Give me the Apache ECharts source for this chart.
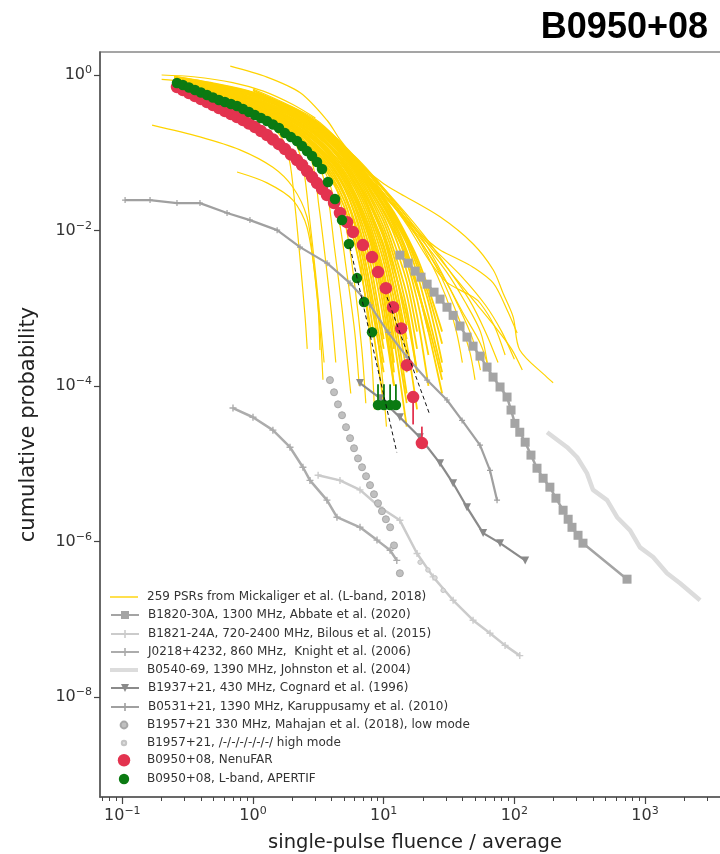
<!DOCTYPE html>
<html><head><meta charset="utf-8">
<script src="https://cdn.jsdelivr.net/npm/echarts@6/dist/echarts.min.js"></script>
<style>html,body{margin:0;padding:0;background:#fff}#c{width:720px;height:854px}</style>
</head><body><div id="c"></div>
<script>
// ---------- tick values ----------
const xMajorTicks = [0.1, 1, 10, 100, 1000];
const xMinorTicks = [0.07,0.08,0.09,0.2,0.3,0.4,0.5,0.6,0.7,0.8,0.9,2,3,4,5,6,7,8,9,20,30,40,50,60,70,80,90,200,300,400,500,600,700,800,900,2000,3000,4000];
const yMajorTicks = [1e-8, 1e-6, 1e-4, 1e-2, 1];

// ---------- legend names ----------
const nmPSR = '259 PSRs from Mickaliger et al. (L-band, 2018)';
const nmB1820 = 'B1820-30A, 1300 MHz, Abbate et al. (2020)';
const nmB1821 = 'B1821-24A, 720-2400 MHz, Bilous et al. (2015)';
const nmJ0218 = 'J0218+4232, 860 MHz,  Knight et al. (2006)';
const nmB0540 = 'B0540-69, 1390 MHz, Johnston et al. (2004)';
const nmB1937 = 'B1937+21, 430 MHz, Cognard et al. (1996)';
const nmB0531 = 'B0531+21, 1390 MHz, Karuppusamy et al. (2010)';
const nmB1957lo = 'B1957+21 330 MHz, Mahajan et al. (2018), low mode';
const nmB1957hi = 'B1957+21, /-/-/-/-/-/-/ high mode';
const nmNenu = 'B0950+08, NenuFAR';
const nmApertif = 'B0950+08, L-band, APERTIF';

const yellowCoreX = [0.25,0.5,1,2,3,4,5,6,7,8,10,12,15,18,22,28];
const yellowCoreY = [
 [0.82,0.55,0.34,0.165,0.09,0.045,0.02,0.007,0.002,5e-4],
 [0.83,0.57,0.36,0.18,0.1,0.055,0.028,0.012,0.004,0.0012,1.5e-4],
 [0.84,0.56,0.35,0.17,0.095,0.05,0.024,0.009,0.003,8e-4,6e-5],
 [0.85,0.59,0.38,0.2,0.115,0.065,0.035,0.017,0.007,0.0025,3e-4],
 [0.85,0.6,0.39,0.205,0.12,0.07,0.038,0.02,0.009,0.0035,4e-4],
 [0.86,0.6,0.4,0.21,0.125,0.075,0.042,0.022,0.011,0.005,7e-4,1e-4],
 [0.87,0.62,0.42,0.23,0.14,0.085,0.05,0.028,0.015,0.008,0.0015,2e-4],
 [0.87,0.63,0.43,0.24,0.148,0.09,0.054,0.031,0.017,0.009,0.002,3e-4],
 [0.88,0.64,0.44,0.25,0.155,0.095,0.058,0.035,0.02,0.011,0.003,6e-4,6e-5],
 [0.89,0.66,0.46,0.27,0.17,0.11,0.068,0.042,0.026,0.015,0.005,0.0013,1.5e-4],
 [0.89,0.67,0.47,0.28,0.178,0.115,0.073,0.046,0.029,0.017,0.0065,0.0018,2.5e-4],
 [0.9,0.68,0.48,0.29,0.185,0.12,0.078,0.05,0.032,0.02,0.008,0.0025,4e-4],
 [0.91,0.7,0.5,0.31,0.2,0.135,0.088,0.058,0.038,0.025,0.011,0.0045,0.001,1.5e-4],
 [0.91,0.71,0.51,0.32,0.207,0.14,0.091,0.061,0.041,0.027,0.013,0.0055,0.0015,3e-4],
 [0.92,0.72,0.53,0.33,0.215,0.145,0.095,0.065,0.045,0.03,0.015,0.007,0.0022,5e-4],
 [0.93,0.74,0.55,0.35,0.23,0.155,0.1,0.07,0.05,0.036,0.02,0.011,0.004,0.0013,2.5e-4],
 [0.93,0.75,0.56,0.36,0.235,0.16,0.105,0.074,0.053,0.039,0.022,0.013,0.0055,0.002,5e-4,8e-5],
 [0.94,0.76,0.58,0.37,0.24,0.165,0.11,0.078,0.057,0.042,0.025,0.015,0.0075,0.0035,0.0012,2e-4],
 [0.95,0.77,0.59,0.375,0.245,0.168,0.113,0.08,0.059,0.044,0.026,0.016,0.008,0.004,0.0015,3.5e-4],
 [0.95,0.78,0.6,0.38,0.25,0.17,0.115,0.082,0.06,0.045,0.027,0.017,0.0085,0.0045,0.0018,5e-4],
 [0.84,0.58,0.37,0.19,0.105,0.06,0.03,0.013,0.005,0.0017,2e-4],
 [0.86,0.61,0.41,0.22,0.13,0.08,0.046,0.025,0.013,0.0065,0.001,1e-4],
 [0.88,0.65,0.45,0.26,0.16,0.1,0.063,0.038,0.023,0.013,0.004,9e-4,8e-5],
 [0.9,0.69,0.49,0.3,0.19,0.128,0.083,0.054,0.035,0.022,0.0095,0.0035,6e-4],
 [0.92,0.73,0.54,0.34,0.22,0.15,0.098,0.068,0.048,0.033,0.017,0.009,0.003,8e-4,1e-4],
 [0.9,0.7,0.5,0.31,0.2,0.135,0.09,0.062,0.044,0.032,0.018,0.01,0.0045,0.0018,6e-4,1.2e-4],
 [0.92,0.73,0.55,0.35,0.23,0.158,0.105,0.073,0.052,0.038,0.021,0.012,0.005,0.0019,5e-4],
 [0.93,0.75,0.57,0.36,0.235,0.16,0.108,0.076,0.055,0.041,0.024,0.014,0.0068,0.0028,8e-4,1.5e-4],
 [0.88,0.66,0.46,0.27,0.172,0.112,0.072,0.047,0.031,0.02,0.0085,0.0032,8e-4,1.5e-4],
 [0.87,0.64,0.44,0.25,0.158,0.1,0.064,0.041,0.026,0.016,0.006,0.0018,3.5e-4,5e-5],
 [0.86,0.62,0.42,0.23,0.14,0.086,0.052,0.03,0.017,0.0095,0.0025,4e-4,3e-5],
 [0.85,0.6,0.4,0.215,0.128,0.078,0.046,0.026,0.014,0.007,0.0014,1.5e-4]
];
const yellowSpray = [
 [[0.3,0.75],[1,0.32],[1.6,0.17],[1.9,0.08],[2.1,0.02],[2.3,0.004],[2.5,8e-4],[2.6,3e-4]],
 [[0.3,0.78],[1,0.34],[2,0.15],[2.4,0.07],[2.7,0.015],[3,0.003],[3.3,6e-4],[3.5,2e-4]],
 [[0.3,0.8],[1,0.36],[2,0.17],[2.8,0.08],[3.2,0.02],[3.6,0.004],[4,8e-4],[4.3,2e-4]],
 [[0.3,0.8],[1,0.37],[2,0.18],[3,0.09],[3.7,0.03],[4.2,0.006],[4.8,0.001],[5.3,2e-4],[5.6,8e-5]],
 [[0.3,0.82],[1,0.38],[2,0.19],[3.5,0.06],[4.5,0.015],[5.2,0.003],[6,5e-4],[6.5,1e-4]],
 [[0.4,0.7],[1,0.4],[2,0.2],[4,0.05],[5.2,0.01],[6,0.002],[6.8,3e-4],[7.3,6e-5]],
 [[0.5,0.65],[1,0.42],[2,0.21],[4,0.06],[6,0.012],[7,0.002],[8,3e-4],[8.5,5e-5]],
 [[0.5,0.66],[1.2,0.38],[2.2,0.2],[4.5,0.05],[6.5,0.01],[8,0.0015],[9.5,2e-4],[10.5,3e-5]],
 [[0.67,1.3],[1.28,0.94],[2.3,0.59],[3.7,0.26],[4.6,0.15],[6.6,0.07],[10,0.04],[13.3,0.03],[27,0.015],[48,6.8e-3],[69,3.1e-3],[82,1.56e-3],[98,7.7e-4],[110,2.9e-4],[177,1.3e-4],[198,1.1e-4]],
 [[1,0.66],[3,0.27],[5,0.12],[8,0.05],[12,0.024],[20,0.0085],[27,0.0056],[35,0.0045],[48,0.0034],[69,0.0021],[88,9.5e-4],[105,4.8e-4]],
 [[1,0.64],[3,0.26],[6,0.09],[10,0.03],[15,0.012],[21.5,0.0045],[30,0.0022],[48,0.0014],[55,0.00115],[70,6e-4],[85,2.5e-4]],
 [[1,0.63],[3,0.25],[5,0.12],[10,0.035],[20,0.009],[30,0.0035],[45,0.0013],[60,5e-4],[75,2e-4]],
 [[2,0.37],[6,0.085],[10,0.03],[20,0.0065],[30,0.0022],[40,9e-4],[55,3.5e-4],[65,1.5e-4]],
 [[2,0.38],[6,0.09],[12,0.024],[20,0.0075],[28,0.0028],[38,0.001],[48,4e-4],[55,1.6e-4]],
 [[2,0.36],[7,0.065],[14,0.016],[22,0.0045],[30,0.0014],[36,5e-4],[40,2e-4]],
 [[2,0.35],[8,0.05],[15,0.013],[25,0.0035],[35,0.001],[45,3e-4],[50,1.2e-4]],
 [[3,0.26],[10,0.03],[20,0.008],[35,0.0025],[50,0.0012],[70,6e-4],[95,3e-4],[115,1.6e-4]],
 [[3,0.25],[12,0.02],[25,0.0055],[40,0.0025],[60,0.0011],[80,5e-4],[100,2.2e-4]],
 [[3,0.24],[9,0.035],[18,0.009],[30,0.003],[42,0.0012],[55,5e-4],[62,2e-4]],
 [[0.169,0.227],[0.393,0.16],[0.795,0.109],[1.42,0.065],[2.02,0.036],[2.59,0.0149],[2.88,0.0042],[3.25,5.7e-4],[3.43,1.2e-4]],
 [[0.755,0.0565],[1.28,0.041],[2.02,0.0246],[2.59,0.011],[3.09,0.00156],[3.25,2.9e-4]],
 [[0.2,1.0],[0.35,0.95],[0.7,0.8],[1.2,0.62],[2,0.42],[3,0.28]],
 [[0.2,0.88],[0.4,0.78],[0.8,0.6],[1.5,0.42],[2.5,0.27]]
];

// ---------- comparison pulsars ----------
const b1820X = [13.3,15.4,17.4,19.3,21.5,24.3,27.0,30.5,34.0,38.4,43.4,48.3,54.6,61.8,68.7,77.7,87.9,94.3,101,110,121,134,149,166,187,208,236,258,276,307,335,728];
const b1820Y = [4.82e-3,3.8e-3,3.0e-3,2.51e-3,2.04e-3,1.61e-3,1.31e-3,1.03e-3,8.1e-4,5.9e-4,4.25e-4,3.25e-4,2.42e-4,1.75e-4,1.3e-4,9.7e-5,7.2e-5,4.9e-5,3.3e-5,2.54e-5,1.89e-5,1.29e-5,8.75e-6,6.5e-6,4.99e-6,3.6e-6,2.52e-6,1.93e-6,1.52e-6,1.2e-6,9.5e-7,3.27e-7];
const b1821X = [3.15,4.63,6.59,9.37,13.3,18.0,23.9,34.0,48.3,65.1,84.9,110];
const b1821Y = [7.1e-6,6.1e-6,4.6e-6,2.75e-6,1.87e-6,7.0e-7,3.5e-7,1.75e-7,9.7e-8,6.6e-8,4.6e-8,3.4e-8];
const j0218X = [0.703,1.0,1.42,1.92,2.41,2.73,3.68,4.39,6.59,8.89,11.2,12.6];
const j0218Y = [5.2e-5,3.96e-5,2.7e-5,1.63e-5,9.0e-6,6.1e-6,3.4e-6,2.05e-6,1.52e-6,1.04e-6,7.7e-7,5.7e-7];
const b0540X = [178,253,302,360,400,512,611,768,915,1151,1473,1853,2636];
const b0540Y = [2.54e-5,1.63e-5,1.21e-5,7.5e-6,4.6e-6,3.4e-6,2.05e-6,1.39e-6,8.4e-7,6.3e-7,3.9e-7,2.9e-7,1.75e-7];
const b1937X = [6.59,9.37,13.3,18.9,27.0,34.0,43.4,57.7,77.7,121];
const b1937Y = [1.09e-4,6.97e-5,3.96e-5,2.19e-5,1.01e-5,5.6e-6,2.75e-6,1.28e-6,9.5e-7,5.7e-7];
const b0531X = [0.105,0.163,0.262,0.393,0.633,0.948,1.53,2.29,3.69,5.53,7.86,10.8,15.1,21.5,30.5,39.8,54.6,65.1,73.7];
const b0531Y = [0.0246,0.0246,0.0225,0.0225,0.0168,0.0136,0.0101,0.0061,0.0038,0.0021,0.0011,4.9e-4,2.35e-4,1.19e-4,6.6e-5,3.6e-5,1.73e-5,8.2e-6,3.4e-6];
const b1957loX = [3.88,4.17,4.47,4.8,5.15,5.53,5.93,6.36,6.83,7.33,7.86,8.43,9.05,9.7,10.4,11.2,12.0,13.3];
const b1957loY = [1.19e-4,8.3e-5,5.8e-5,4.2e-5,2.95e-5,2.13e-5,1.58e-5,1.17e-5,9.0e-6,6.9e-6,5.3e-6,4.05e-6,3.1e-6,2.45e-6,1.93e-6,1.52e-6,8.9e-7,3.9e-7];
const b1957hiX = [19.0,21.8,24.7,28.5];
const b1957hiY = [5.4e-7,4.3e-7,3.4e-7,2.35e-7];

// ---------- B0950+08 ----------
const nenuX = [0.262,0.291,0.324,0.360,0.400,0.445,0.494,0.549,0.610,0.679,0.755,0.839,0.932,1.036,1.151,1.280,1.422,1.581,1.757,1.953,2.171,2.371,2.589,2.829,3.09,3.373,3.68,4.17,4.63,5.24,5.82,6.93,8.14,9.05,10.4,11.8,13.6,15.1,16.8,19.6];
const nenuY = [0.700,0.641,0.586,0.537,0.491,0.449,0.411,0.376,0.344,0.315,0.288,0.264,0.238,0.214,0.190,0.169,0.148,0.129,0.1115,0.0948,0.0805,0.0695,0.0581,0.0486,0.0407,0.0341,0.0286,0.0225,0.0168,0.0128,0.00953,0.00649,0.00455,0.00292,0.00181,0.00103,5.5e-4,1.85e-4,7.2e-5,1.84e-5];
const nenuErrX = [16.8,19.6];
const nenuErrLo = [3.2e-5,1.84e-5];
const nenuErrHi = [7.2e-5,3.0e-5];
const apertifX = [0.262,0.291,0.324,0.360,0.400,0.445,0.494,0.549,0.610,0.679,0.755,0.839,0.932,1.036,1.151,1.280,1.422,1.581,1.757,1.953,2.171,2.371,2.589,2.829,3.09,3.373,3.75,4.24,4.8,5.43,6.25,7.07,8.14,9.05,10.05,11.2,12.4];
const apertifY = [0.789,0.744,0.690,0.641,0.595,0.553,0.513,0.477,0.449,0.423,0.399,0.365,0.334,0.305,0.280,0.256,0.231,0.208,0.179,0.159,0.1415,0.122,0.105,0.0907,0.0759,0.0617,0.042,0.0254,0.0136,0.0067,0.00244,0.0012,0.00049,5.7e-5,5.7e-5,5.7e-5,5.7e-5];
const apertifErrX = [9.05,10.05,11.2,12.4];
const apertifErrLo = [5.7e-5,5.7e-5,5.7e-5,5.7e-5];
const apertifErrHi = [1.05e-4,1.05e-4,1.05e-4,1.05e-4];
const apertifFitX = [5.53,12.6];
const apertifFitY = [6.1e-3,1.4e-5];
const nenuFitX = [10.6,22.6];
const nenuFitY = [1.39e-3,4.2e-5];

// ---------- build ----------
const zip = (xs, ys) => ys.map((y, i) => [xs[i], y]);
const FONT = 'DejaVu Sans';
const YEL = '#ffd300';
const RED = '#e3334f';
const GREEN = '#0b7a12';
const PLUS = 'path://M-1,-5L1,-5L1,-1L5,-1L5,1L1,1L1,5L-1,5L-1,1L-5,1L-5,-1L-1,-1Z';

function powLabel(v) {
  const e = Math.round(Math.log10(v));
  if (Math.abs(v / Math.pow(10, e) - 1) > 1e-6) return '';
  return '{b|10}{s|' + (e < 0 ? '\u2212' + (-e) : String(e)) + '}';
}
const richLab = {
  b: {fontFamily: FONT, fontSize: 16, color: '#333', lineHeight: 20},
  s: {fontFamily: FONT, fontSize: 11, color: '#333', lineHeight: 10, verticalAlign: 'top'}
};

const series = [];
yellowCoreY.forEach(ys => series.push({
  name: nmPSR, type: 'line', data: zip(yellowCoreX, ys), symbol: 'none', smooth: 0.3,
  lineStyle: {color: YEL, width: 1.8}, itemStyle: {color: YEL}, z: 1
}));
yellowSpray.forEach(d => series.push({
  name: nmPSR, type: 'line', data: d, symbol: 'none', smooth: 0.3,
  lineStyle: {color: YEL, width: 1.2}, itemStyle: {color: YEL}, z: 1
}));

function grayLine(name, xs, ys, color, width, symbol, size, rot) {
  return {name, type: 'line', data: zip(xs, ys), symbol, symbolSize: size, symbolRotate: rot || 0,
    showSymbol: symbol !== 'none', lineStyle: {color, width}, itemStyle: {color, opacity: 1}, z: 2};
}
function markers(name, xs, ys, color, border, size, z) {
  return {name, type: 'line', data: zip(xs, ys), symbol: 'circle', symbolSize: size, showSymbol: true,
    lineStyle: {opacity: 0, width: 0}, itemStyle: {color, opacity: 1, borderColor: border, borderWidth: border ? 1 : 0}, z};
}
series.push(grayLine(nmB1820, b1820X, b1820Y, '#a4a4a4', 2.5, 'rect', 9));
series.push(grayLine(nmB1821, b1821X, b1821Y, '#cbcbcb', 2.5, PLUS, 7));
series.push(grayLine(nmJ0218, j0218X, j0218Y, '#acacac', 2.5, PLUS, 7));
series.push(grayLine(nmB0540, b0540X, b0540Y, '#dcdcdc', 4.5, 'none', 0));
series.push(grayLine(nmB1937, b1937X, b1937Y, '#8a8a8a', 2.2, 'triangle', 8, 180));
series.push(grayLine(nmB0531, b0531X, b0531Y, '#a0a0a0', 2.2, PLUS, 6));
series.push(markers(nmB1957lo, b1957loX, b1957loY, '#c0c0c0', '#a8a8a8', 7, 2));
series.push(markers(nmB1957hi, b1957hiX, b1957hiY, '#dadada', '#c4c4c4', 4.5, 2));

nenuErrX.forEach((x, i) => series.push({type: 'line', data: [[x, nenuErrLo[i]], [x, nenuErrHi[i]]],
  symbol: 'none', lineStyle: {color: RED, width: 1.8}, z: 3}));
series.push(markers(nmNenu, nenuX, nenuY, RED, null, 12.5, 3));
apertifErrX.forEach((x, i) => series.push({type: 'line', data: [[x, apertifErrLo[i]], [x, apertifErrHi[i]]],
  symbol: 'none', lineStyle: {color: GREEN, width: 1.8}, z: 4}));
series.push(markers(nmApertif, apertifX, apertifY, GREEN, null, 10.5, 4));
series.push({type: 'line', data: zip(apertifFitX, apertifFitY), symbol: 'none',
  lineStyle: {color: '#111', width: 1, type: [4, 3]}, z: 5});
series.push({type: 'line', data: zip(nenuFitX, nenuFitY), symbol: 'none',
  lineStyle: {color: '#111', width: 1, type: [4, 3]}, z: 5});

// one legend component per entry so each row sits at its measured height
const legendRows = [
  {name: nmPSR, cy: 597, h: 10, icon: 'path://M0,0L28,0L28,1.4L0,1.4Z'},
  {name: nmB1820, cy: 615, h: 10},
  {name: nmB1821, cy: 634, h: 10},
  {name: nmJ0218, cy: 652, h: 10},
  {name: nmB0540, cy: 670, h: 10, icon: 'path://M0,0L28,0L28,4L0,4Z'},
  {name: nmB1937, cy: 688, h: 10},
  {name: nmB0531, cy: 707, h: 10},
  {name: nmB1957lo, cy: 725, h: 8.5},
  {name: nmB1957hi, cy: 743, h: 5.5},
  {name: nmNenu, cy: 761, h: 15.5},
  {name: nmApertif, cy: 779, h: 13}
];
const legends = legendRows.map(r => ({
  orient: 'vertical', left: 110, top: r.cy - Math.max(r.h, 14) / 2, padding: 0,
  itemWidth: 28, itemHeight: r.h, selectedMode: false,
  textStyle: {fontFamily: FONT, fontSize: 12, color: '#333', lineHeight: 14, padding: [0, 0, 0, 4]},
  data: [r.icon ? {name: r.name, icon: r.icon} : r.name]
}));

const axisCommon = {type: 'log', logBase: 10, splitLine: {show: false}, minorTick: {show: false}};

const option = {
  animation: false,
  backgroundColor: '#fff',
  title: {text: 'B0950+08', right: 7, top: 5,
    textStyle: {fontFamily: 'Liberation Sans', fontSize: 36, fontWeight: 'bold', color: '#000'}},
  grid: {left: 100, top: 52, right: -10, bottom: 57, containLabel: false, outerBoundsMode: 'none',
    show: true, borderColor: '#888', borderWidth: 1.5},
  legend: legends,
  xAxis: [
    Object.assign({}, axisCommon, {
      position: 'bottom', min: 0.0675, max: 4467,
      name: 'single-pulse fluence / average', nameLocation: 'middle', nameGap: 36,
      nameTextStyle: {fontFamily: FONT, fontSize: 19.5, color: '#222'},
      axisLine: {show: true, lineStyle: {color: '#555', width: 1.5}},
      axisTick: {show: true, inside: false, length: 7, customValues: xMajorTicks, lineStyle: {color: '#444', width: 1.2}},
      axisLabel: {show: true, margin: 9, customValues: xMajorTicks, formatter: powLabel, rich: richLab}
    }),
    Object.assign({}, axisCommon, {
      position: 'bottom', min: 0.0675, max: 4467,
      axisLine: {show: false},
      axisTick: {show: true, inside: false, length: 4, customValues: xMinorTicks, lineStyle: {color: '#444', width: 1}},
      axisLabel: {show: false}
    })
  ],
  yAxis: Object.assign({}, axisCommon, {
    min: 5.16e-10, max: 1.977,
    name: 'cumulative probability', nameLocation: 'middle', nameGap: 61, nameRotate: 90,
    nameTextStyle: {fontFamily: FONT, fontSize: 21, color: '#222'},
    axisLine: {show: true, lineStyle: {color: '#555', width: 1.5}},
    axisTick: {show: true, inside: false, length: 6, customValues: yMajorTicks, lineStyle: {color: '#444', width: 1.2}},
    axisLabel: {show: true, margin: 8, customValues: yMajorTicks, formatter: powLabel, rich: richLab}
  }),
  series: series
};
const chart = echarts.init(document.getElementById('c'), null, {renderer: 'canvas'});
chart.setOption(option);
</script>
</body></html>
